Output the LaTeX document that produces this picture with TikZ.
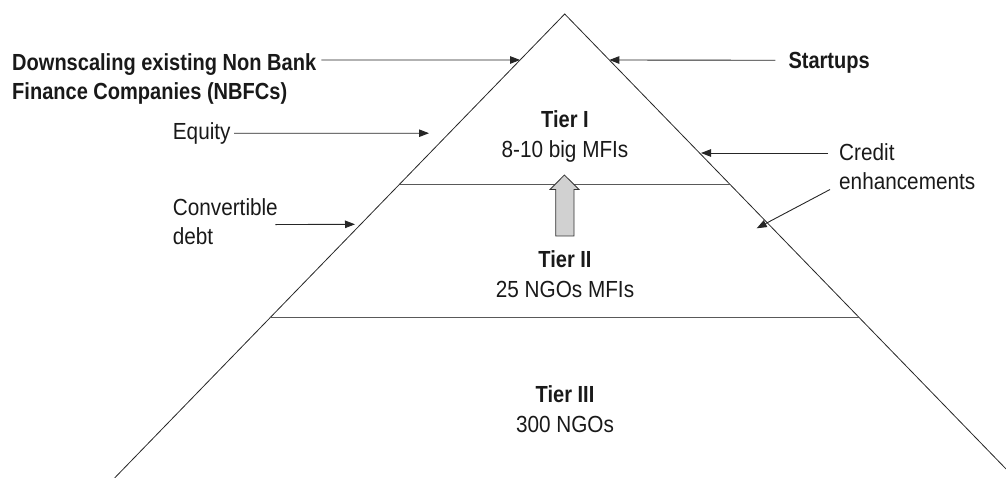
\documentclass[tikz,border=0pt]{standalone}
\usepackage{fontspec}
\setmainfont{Liberation Sans}[FakeStretch=0.89, BoldFeatures={FakeStretch=0.86}]
\usetikzlibrary{arrows.meta, calc}

\begin{document}
\begin{tikzpicture}[x=1pt, y=-1pt, >={Triangle[length=10pt, width=7.5pt]},
    lbl/.style={inner sep=0pt, text=black!90, align=left,
      font=\fontsize{23.3}{29}\selectfont},
    tier/.style={lbl, align=center, anchor=north,
      font=\fontsize{23.3}{30}\selectfont},
    side/.style={line width=0.8pt, black!85},
    cut/.style={line width=1.3pt, black!65},
    ptr/.style={->, line width=0.9pt, black!85}]
    \useasboundingbox (0,0) rectangle (1006,478);
    \clip (0,0) rectangle (1006,478);

    % pyramid
    \coordinate (apex) at (564.7,14);
    \coordinate (bl) at (114.6,478);
    \coordinate (br) at (1014.8,478);
    \draw[side] (bl) -- (apex) -- (br);
    \draw[cut] ($(apex)!0.367!(bl)$) -- ($(apex)!0.367!(br)$);
    \draw[cut] ($(apex)!0.6537!(bl)$) -- ($(apex)!0.6537!(br)$);

    % tiers
    \node[tier] (t1) at (565,110) {\textbf{Tier I}\\8-10 big MFIs};
    \node[tier] (t2) at (565,250) {\textbf{Tier II}\\25 NGOs MFIs};
    \node[tier] (t3) at (565,385) {\textbf{Tier III}\\300 NGOs};
    \draw[fill=black!18, draw=black!80, line width=0.8pt]
      (555.7,236) -- (555.7,189.5) -- (550,189.5) -- (564.4,175)
      -- (579,189.5) -- (574,189.5) -- (574,236) -- cycle;

    % labels
    \node[lbl, font=\fontsize{23.3}{28.6}\selectfont\bfseries, anchor=north west]
      (nbfc) at (12,53.7) {Downscaling existing Non Bank\\Finance Companies (NBFCs)};
    \node[lbl, font=\fontsize{23.3}{29}\selectfont\bfseries, anchor=base west]
      (start) at (788.3,69) {Startups};
    \node[lbl, anchor=base west] (equity) at (172.7,139.3) {Equity};
    \node[lbl, anchor=north west] (conv) at (172.7,198) {Convertible\\debt};
    \node[lbl, anchor=north west] (credit) at (839,143) {Credit\\enhancements};

    % arrows into the pyramid
    \coordinate (nbfcend) at ($(apex)!0.0991!(bl)$);
    \coordinate (startend) at ($(apex)!0.0991!(br)$);
    \coordinate (equityend) at (429,133.2);
    \coordinate (convend) at (355,224.3);
    \coordinate (creditend) at (701,153);
    \coordinate (creditend2) at (756.7,228.3);

    \draw[ptr] ([xshift=5pt, yshift=-6.3pt]nbfc.north east) -- (nbfcend);
    \draw[ptr] ([xshift=-13pt, yshift=3pt]start.west) -- (startend);
    \draw[ptr] ([xshift=3.5pt]equity.east) -- (equityend);
    \draw[ptr] ([xshift=-2.6pt, yshift=-3.3pt]conv.east) -- (convend);
    \draw[ptr] ([xshift=-11pt, yshift=-10pt]credit.north west) -- (creditend);
    \draw[ptr] ([xshift=-9pt]credit.south west) -- (creditend2);
\end{tikzpicture}
\end{document}
